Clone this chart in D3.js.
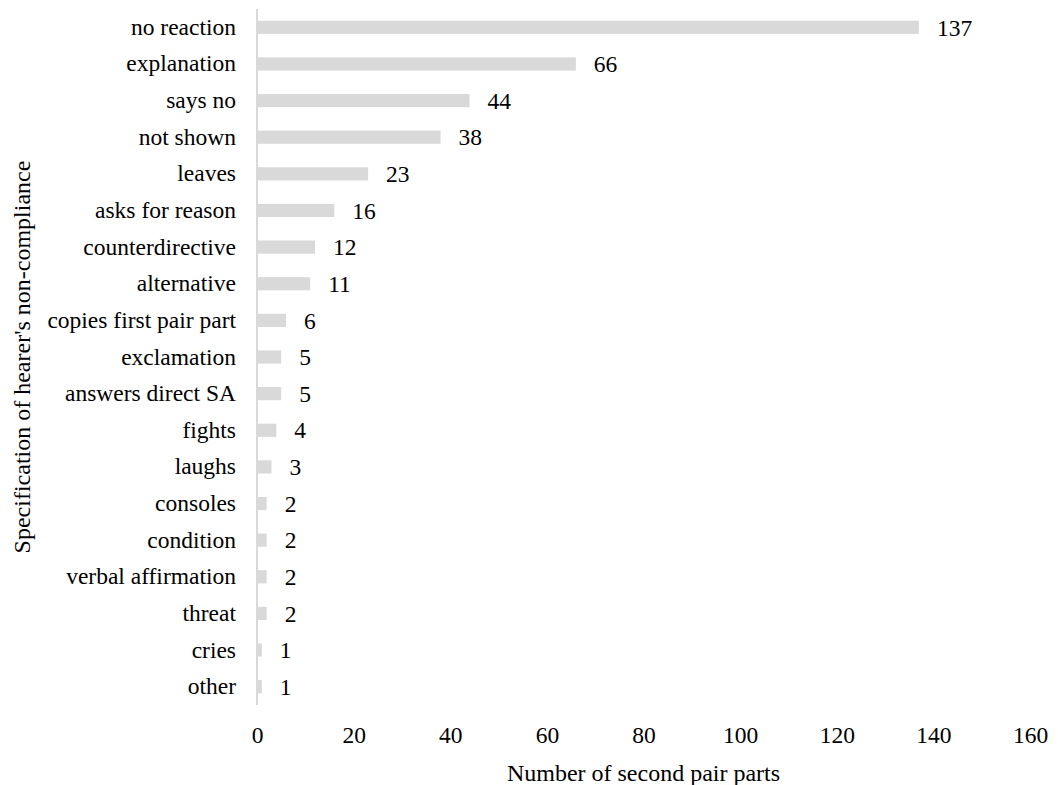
<!DOCTYPE html>
<html>
<head>
<meta charset="utf-8">
<script src="https://cdn.jsdelivr.net/npm/d3@7"></script>
</head>
<body style="margin:0; font-family:'Liberation Serif';">
<div style="position:absolute; left:0; top:0; font-family:'Liberation Serif'; font-size:1px; color:#fff;">.</div>
<svg id="chart" width="1058" height="785" style="font-family:'Liberation Serif';"></svg>
<script>
// DATA
var categories = ["no reaction", "explanation", "says no", "not shown", "leaves", "asks for reason",
  "counterdirective", "alternative", "copies first pair part", "exclamation", "answers direct SA",
  "fights", "laughs", "consoles", "condition", "verbal affirmation", "threat", "cries", "other"];
var counts = [137, 66, 44, 38, 23, 16, 12, 11, 6, 5, 5, 4, 3, 2, 2, 2, 2, 1, 1];
var xTicks = [0, 20, 40, 60, 80, 100, 120, 140, 160];

// SIZING
var width = 1058, height = 785;
var margin = {top: 9, right: 28, bottom: 80, left: 257};
var h = height - margin.top - margin.bottom;
var fs = 23.5, fsTitle = 24;

var svg = d3.select("#chart");
var g = svg.append("g").attr("transform", "translate(" + margin.left + "," + margin.top + ")");

var x = d3.scaleLinear().domain([0, 160]).range([0, 773]);
var y = d3.scaleBand().domain(categories).range([0, h]).paddingInner(0.64).paddingOuter(0.32);

// BARS
g.selectAll(".bar")
  .data(counts)
  .enter().append("rect")
  .attr("class", "bar")
  .attr("x", 0)
  .attr("y", function(d, i) { return y(categories[i]); })
  .attr("width", function(d) { return x(d); })
  .attr("height", y.bandwidth())
  .style("fill", "#d9d9d9");

// VALUE LABELS
g.selectAll(".val")
  .data(counts)
  .enter().append("text")
  .attr("class", "val")
  .attr("x", function(d) { return x(d) + 18; })
  .attr("y", function(d, i) { return y(categories[i]) + y.bandwidth() / 2; })
  .attr("dy", "0.35em")
  .style("font-size", fs + "px")
  .text(function(d) { return d; });

// Y AXIS (labels + line)
var yAxis = g.append("g").call(d3.axisLeft(y).tickSize(0).tickPadding(21));
yAxis.attr("font-family", null);
yAxis.select(".domain").remove();
yAxis.selectAll("text").style("font-size", fs + "px").style("fill", "#000");
g.append("line")
  .attr("x1", 0).attr("x2", 0).attr("y1", 0).attr("y2", h)
  .style("stroke", "#d9d9d9").style("stroke-width", 2);

// X AXIS (labels only)
var xAxis = g.append("g").attr("transform", "translate(0," + h + ")")
  .call(d3.axisBottom(x).tickValues(xTicks).tickSize(0).tickPadding(21));
xAxis.attr("font-family", null);
xAxis.select(".domain").remove();
xAxis.selectAll("text").style("font-size", fs + "px").style("fill", "#000");

// AXIS TITLES
svg.append("text")
  .attr("x", margin.left + x(80)).attr("y", 781)
  .attr("text-anchor", "middle")
  .style("font-size", fsTitle + "px")
  .text("Number of second pair parts");

svg.append("text")
  .attr("transform", "translate(30," + (margin.top + h / 2) + ") rotate(-90)")
  .attr("text-anchor", "middle")
  .style("font-size", fsTitle + "px")
  .text("Specification of hearer's non-compliance");
</script>
</body>
</html>
